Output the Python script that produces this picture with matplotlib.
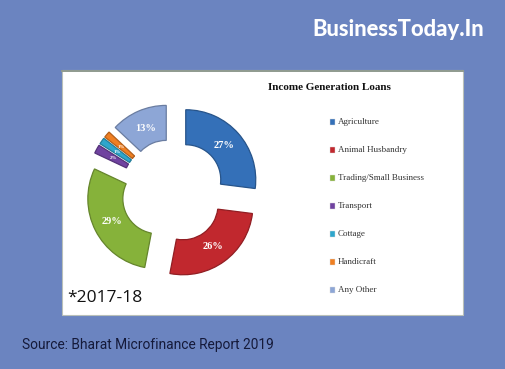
import matplotlib
matplotlib.use("Agg")
import matplotlib.pyplot as plt
import matplotlib.colors as mcolors
from matplotlib.patches import Rectangle

# data (income generation loans, 2017-18)
categories = ["Agriculture", "Animal Husbandry", "Trading/Small Business",
              "Transport", "Cottage", "Handicraft", "Any Other"]
shares = [27, 26, 29, 2, 1.5, 1.5, 13]
pct_labels = ["27%", "26%", "29%", "2%", "1%", "1%", "13%"]
colors = ["#3470b8", "#c1282e", "#86b23a", "#7042a0", "#2ea6cc", "#ef7f22", "#8da6d6"]

BG = "#6b84c0"


def darker(c, f=0.75):
    r, g, b = mcolors.to_rgb(c)
    return (r * f, g * f, b * f)


fig = plt.figure(figsize=(5.05, 3.69), dpi=100)
fig.patch.set_facecolor(BG)
ax = fig.add_axes([0, 0, 1, 1])
ax.set_facecolor(BG)

# white chart panel (pixel coords, y up)
ax.add_patch(Rectangle((62, 369 - 315), 401, 245, facecolor="white",
                       edgecolor="#b9c0b9", linewidth=0.8, zorder=1))
ax.plot([62, 463], [369 - 71, 369 - 71], color="#8f9a8f", lw=1.4, zorder=2)

wedges, texts = ax.pie(shares, colors=colors, startangle=90, counterclock=False,
                       radius=70, center=(173, 369 - 191),
                       explode=[17] * len(shares),
                       labels=pct_labels, labeldistance=0.73,
                       wedgeprops=dict(width=35, linewidth=0.9),
                       textprops=dict(color="white", family="Liberation Serif",
                                      fontsize=7.5, fontweight="bold"))
for w, c in zip(wedges, colors):
    w.set_zorder(3)
    w.set_edgecolor(darker(c))
for t, s in zip(texts, shares):
    t.set_zorder(4)
    t.set_ha("center")
    t.set_va("center")
    if s < 5:
        t.set_fontsize(3.5)

ax.set_xlim(0, 505)
ax.set_ylim(0, 369)
ax.set_aspect("equal")
ax.axis("off")

# chart title and legend
ax.text(268, 369 - 88, "Income Generation Loans", family="Liberation Serif",
        fontsize=8, fontweight="bold", color="#111111", va="center", zorder=5)
for i, (name, c) in enumerate(zip(categories, colors)):
    y = 369 - (122 + i * 28)
    ax.add_patch(Rectangle((329.5, y - 2.6), 5.2, 5.2, facecolor=c,
                           edgecolor="#dddddd", linewidth=0.3, zorder=5))
    ax.text(338, y, name, family="Liberation Serif", fontsize=6.5,
            color="#333333", va="center", zorder=5)

ax.text(67, 369 - 298, "*2017-18", family="Open Sans", fontsize=12.5,
        color="#111111", va="center", zorder=5)

ax.text(484, 369 - 30, "BusinessToday.In", family="Lato",
        fontsize=15.8, fontweight="black", color="white", ha="right", va="center")
ax.text(22, 369 - 345, "Source: Bharat Microfinance Report 2019",
        family="Roboto", fontsize=9.9, color="#151a3a", va="center")

fig.savefig("out.png", dpi=100, facecolor=BG)
